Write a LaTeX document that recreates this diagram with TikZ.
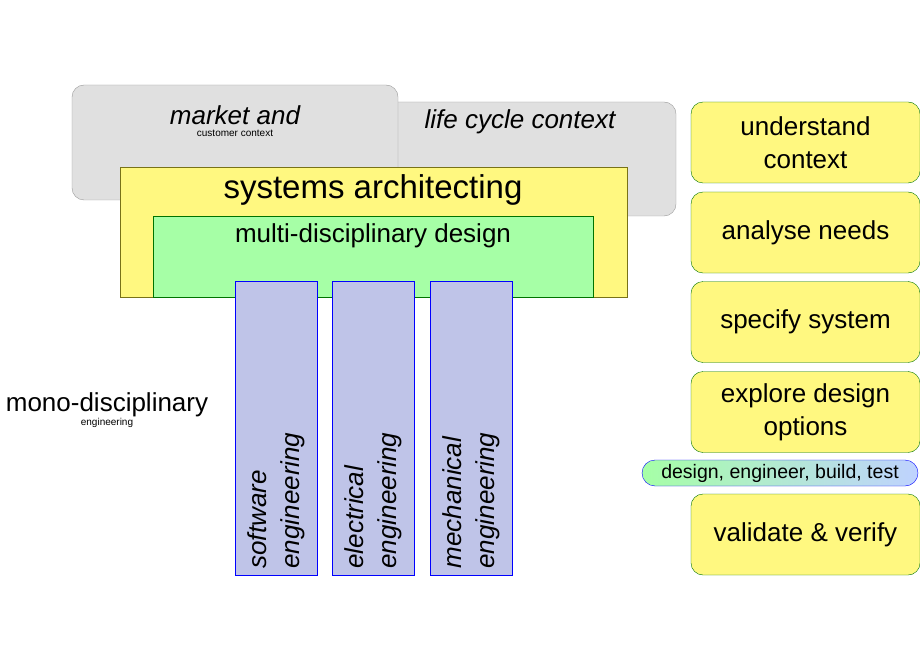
\documentclass[tikz,border=0pt]{standalone}
\usepackage{fontspec}
\setmainfont{Liberation Sans}
\begin{document}
\begin{tikzpicture}[x=1pt,y=-1pt,
  ctx/.style={draw=gray!80,fill=black!12,rounded corners=12pt},
  phase/.style={draw=green!45!black,fill=yellow!50,rounded corners=12pt,
    minimum width=229pt,minimum height=81pt,align=center,font=\fontsize{26}{33}\selectfont},
  mono/.style={draw=blue,fill=cyan!30!blue!25,minimum width=82pt,minimum height=294pt},
  vlabel/.style={rotate=90,anchor=west,align=left,font=\fontsize{26}{33}\selectfont\itshape}]
\useasboundingbox (0,0) rectangle (920,660);
% context
\draw [ctx] (300,102) rectangle (676,216);
\node (lc) at (520,122) {\fontsize{26}{33}\selectfont\itshape life cycle context};
\draw [ctx] (72,85) rectangle (398,200);
\node (mc) [align=center] at (235,121) {\fontsize{26}{33}\selectfont\itshape market and\\customer context};
% architecting
\node (sa) [draw=olive!80!black,fill=yellow!50,minimum width=507pt,minimum height=130pt,anchor=north west] at (120,167) {};
\node at (373,190) {\fontsize{33}{38}\selectfont systems architecting};
\node (md) [draw=green!45!black,fill=green!35,minimum width=440pt,minimum height=81pt,anchor=north west] at (153,216) {};
\node at (373,236) {\fontsize{26}{33}\selectfont multi-disciplinary design};
% disciplines
\node (sw) [mono,anchor=north west] at (235,281) {};
\node (ee) [mono,anchor=north west] at (332,281) {};
\node (me) [mono,anchor=north west] at (430,281) {};
\node [vlabel] at (276,572) {software\\engineering};
\node [vlabel] at (373,572) {electrical\\engineering};
\node [vlabel] at (471,572) {mechanical\\engineering};
\node (mono) [align=center] at (107,410) {\fontsize{26}{33}\selectfont mono-disciplinary\\engineering};
% phases
\node (s1) [phase] at (805.5,142.5) {understand\\context};
\node (s2) [phase] at (805.5,232.5) {analyse needs};
\node (s3) [phase] at (805.5,322) {specify system};
\node (s4) [phase] at (805.5,412) {explore design\\options};
\node (s5) [phase] at (805.5,534.5) {validate \& verify};
\node (det) [draw=blue,left color=green!35,right color=cyan!30!blue!25,rounded corners=13pt,
  minimum width=276pt,minimum height=26pt,inner sep=0pt] at (780,473)
  {\fontsize{19.5}{22}\selectfont design, engineer, build, test};
\end{tikzpicture}
\end{document}
